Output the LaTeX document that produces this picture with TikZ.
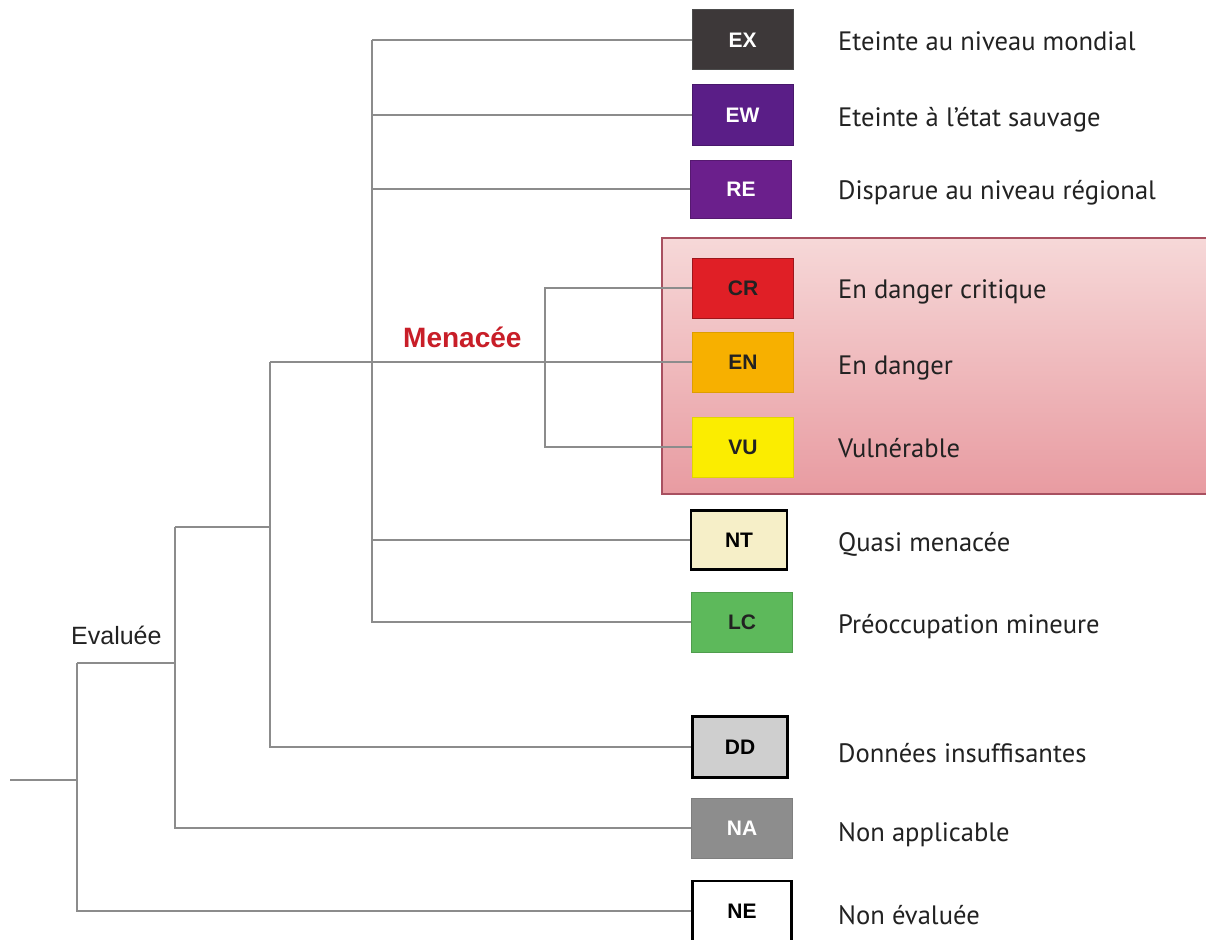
\documentclass[tikz,border=0pt]{standalone}
\usepackage{fontspec}
\usetikzlibrary{backgrounds}
\setmainfont{PT Sans}
\newfontfamily\arialf{Liberation Sans}
\definecolor{lineg}{HTML}{8C8C8C}
\definecolor{cEX}{HTML}{3D3839}
\definecolor{cEW}{HTML}{5A1E87}
\definecolor{cRE}{HTML}{6B1F8C}
\definecolor{cCR}{HTML}{E01F26}
\definecolor{cEN}{HTML}{F7B000}
\definecolor{cVU}{HTML}{FBED00}
\definecolor{cNT}{HTML}{F6EFC8}
\definecolor{cLC}{HTML}{5DB95B}
\definecolor{cDD}{HTML}{CFCFCF}
\definecolor{cNA}{HTML}{8D8D8D}
\definecolor{menred}{HTML}{C81E28}
\definecolor{pantop}{HTML}{F6D8D8}
\definecolor{panbot}{HTML}{E89BA1}
\definecolor{panedge}{HTML}{A85060}
\definecolor{txt}{HTML}{222222}
\tikzset{
  conn/.style={draw=lineg, line width=1.8pt},
  catbox/.style={minimum width=101pt, minimum height=60pt, inner sep=0pt,
    font=\arialf\bfseries\fontsize{21}{21}\selectfont, line width=1pt},
  blackbox/.style={catbox, draw=black, line width=2.6pt, text=black},
  desc/.style={anchor=base west, inner sep=0pt, text=txt, font=\fontsize{26.6}{26.6}\selectfont}
}
\begin{document}
\begin{tikzpicture}[x=1pt,y=-1pt]
\useasboundingbox (0,0) rectangle (1206,939);

% boxes
\node[catbox, fill=cEX, draw=black!70, text=white] (EX) at (742.5,40) {EX};
\node[catbox, fill=cEW, draw=cEW!80!black, text=white] (EW) at (742.5,115) {EW};
\node[catbox, fill=cRE, draw=cRE!80!black, text=white, minimum height=58pt] (RE) at (741,189) {RE};
\node[catbox, fill=cCR, draw=cCR!70!black, text=txt] (CR) at (743,288) {CR};
\node[catbox, fill=cEN, draw=cEN!90!black, text=txt] (EN) at (743,362) {EN};
\node[catbox, fill=cVU, draw=cVU!90!black, text=txt] (VU) at (743,447) {VU};
\node[blackbox, fill=cNT, minimum width=96pt, minimum height=59pt] (NT) at (739,540) {NT};
\node[catbox, fill=cLC, draw=cLC!85!black, text=txt] (LC) at (742,622) {LC};
\node[blackbox, fill=cDD, minimum width=95pt, minimum height=61pt] (DD) at (740,747) {DD};
\node[catbox, fill=cNA, draw=cNA!90!black, text=white] (NA) at (742,828) {NA};
\node[blackbox, fill=white, minimum width=99pt, minimum height=60pt] (NE) at (742,911) {NE};

% group labels
\node[anchor=base west, inner sep=0pt, font=\arialf\fontsize{25}{25}\selectfont, text=txt] (eval) at (71,644) {Evaluée};
\node[anchor=base west, inner sep=0pt, font=\arialf\bfseries\fontsize{28}{28}\selectfont, text=menred] (men) at (403,347) {Menacée};

% descriptions
\node[desc] (dEX) at (838,51) {Eteinte au niveau mondial};
\node[desc] (dEW) at (838,126) {Eteinte à l'état sauvage};
\node[desc] (dRE) at (838,199) {Disparue au niveau régional};
\node[desc] (dCR) at (838,298) {En danger critique};
\node[desc] (dEN) at (838,374) {En danger};
\node[desc] (dVU) at (838,457) {Vulnérable};
\node[desc] (dNT) at (838,551) {Quasi menacée};
\node[desc] (dLC) at (838,633) {Préoccupation mineure};
\node[desc] (dDD) at (838,762) {Données insuffisantes};
\node[desc] (dNA) at (838,841) {Non applicable};
\node[desc] (dNE) at (838,924) {Non évaluée};

% junction coordinates
\coordinate (root) at (10,780);
\coordinate (ja) at (77,663);
\coordinate (jb) at (175,527);
\coordinate (jc) at (270,362);
\coordinate (jd) at (372,40);
\coordinate (je) at (545,288);

\begin{scope}[on background layer]
\fill[white] (0,0) rectangle (1206,939);
% threatened panel
\node[minimum width=548pt, minimum height=256pt, inner sep=0pt,
  top color=pantop, bottom color=panbot, draw=panedge, line width=1.2pt]
  (panel) at (936,366) {};
% connectors
\draw[conn] (root) -- (root -| ja);
\draw[conn] (ja) -- (ja |- NE.west) -- (NE.west);
\draw[conn] (ja) -- (ja -| jb);
\draw[conn] (jb) -- (jb |- NA.west) -- (NA.west);
\draw[conn] (jb) -- (jb -| jc);
\draw[conn] (jc) -- (jc |- DD.west) -- (DD.west);
\draw[conn] (jc) -- (EN.west);
\draw[conn] (jd) -- (EX.west);
\draw[conn] (jd) -- (jd |- LC.west) -- (LC.west);
\draw[conn] (jd |- EW.west) -- (EW.west);
\draw[conn] (jd |- RE.west) -- (RE.west);
\draw[conn] (jd |- NT.west) -- (NT.west);
\draw[conn] (CR.west) -- (je) -- (je |- VU.west) -- (VU.west);
\end{scope}
\end{tikzpicture}
\end{document}
